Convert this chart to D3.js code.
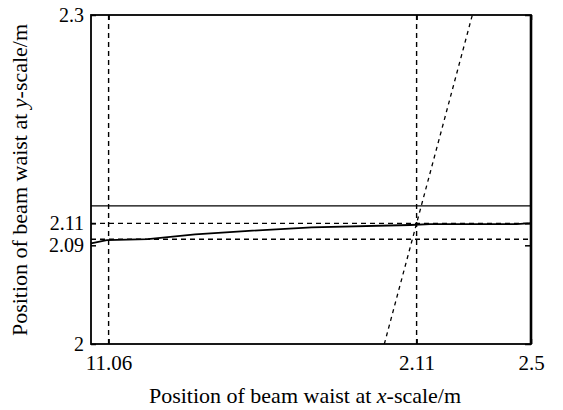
<!DOCTYPE html>
<html><head><meta charset="utf-8">
<script src="https://cdn.jsdelivr.net/npm/d3@7"></script>
<style>body{margin:0;background:#fff}text{font-family:"Liberation Serif","Times New Roman",serif;fill:#000}</style>
</head><body><svg id="c" width="563" height="410"></svg>
<script>
const xDomain=[1.0,2.5], yDomain=[2.0,2.3];
const xTicks=[1.06,2.11,2.5], xTickLabels=["11.06","2.11","2.5"];
const yTicks=[2.0,2.09,2.11,2.3], yTickLabels=["2","2.09","2.11","2.3"];
// solid curve (beam waist trajectory)
const curveX=[1.0,1.054,1.194,1.355,1.525,1.752,2.088,2.156,2.451,2.5];
const curveY=[2.0918,2.0948,2.0957,2.1000,2.1030,2.1064,2.1085,2.1093,2.1093,2.1103];
// solid horizontal reference
const solidH=2.126;
// dashed horizontal references
const dashedH=[2.11,2.0955];
// dashed vertical references
const dashedV=[1.06,2.11];
// dashed diagonal line
const diagX=[2.0,2.3], diagY=[2.0,2.3];

const svg=d3.select("#c");
const m={l:91,r:531,t:15,b:344};
const x=d3.scaleLinear().domain(xDomain).range([m.l,m.r]);
const y=d3.scaleLinear().domain(yDomain).range([m.b,m.t]);
const g=svg.append("g");
const line=d3.line().x(d=>x(d[0])).y(d=>y(d[1]));

g.selectAll(".dv").data(dashedV).join("line").attr("x1",d=>x(d)).attr("x2",d=>x(d))
 .attr("y1",m.t).attr("y2",m.b).attr("stroke","#000").attr("stroke-width",1.4).attr("stroke-dasharray","5,4");
g.selectAll(".dh").data(dashedH).join("line").attr("y1",d=>y(d)).attr("y2",d=>y(d))
 .attr("x1",m.l).attr("x2",m.r).attr("stroke","#000").attr("stroke-width",1.4).attr("stroke-dasharray","5,4");
g.append("line").attr("x1",m.l).attr("x2",m.r).attr("y1",y(solidH)).attr("y2",y(solidH))
 .attr("stroke","#000").attr("stroke-width",1.3);
g.append("path").attr("d",line(diagX.map((v,i)=>[v,diagY[i]]))).attr("fill","none")
 .attr("stroke","#000").attr("stroke-width",1.3).attr("stroke-dasharray","4,4");
g.append("path").attr("d",line(curveX.map((v,i)=>[v,curveY[i]]))).attr("fill","none")
 .attr("stroke","#000").attr("stroke-width",1.8);

g.append("rect").attr("x",m.l).attr("y",m.t).attr("width",m.r-m.l).attr("height",m.b-m.t)
 .attr("fill","none").attr("stroke","#000").attr("stroke-width",1.8);
g.append("line").attr("x1",m.r).attr("x2",m.r).attr("y1",m.t).attr("y2",m.b).attr("stroke","#000").attr("stroke-width",2.6);

const fmtX=(d,i)=>xTickLabels[i], fmtY=(d,i)=>yTickLabels[i];
const ax=svg.append("g").attr("transform",`translate(0,${m.b})`)
 .call(d3.axisBottom(x).tickValues(xTicks).tickFormat(fmtX).tickSize(-5).tickPadding(11));
const ay=svg.append("g").attr("transform",`translate(${m.l},0)`)
 .call(d3.axisLeft(y).tickValues(yTicks).tickFormat(fmtY).tickSize(-5).tickPadding(7));
const ay2=svg.append("g").attr("transform",`translate(${m.r},0)`)
 .call(d3.axisRight(y).tickValues(yTicks).tickFormat("").tickSize(-6));
const ax2=svg.append("g").attr("transform",`translate(0,${m.t})`)
 .call(d3.axisTop(x).tickValues(xTicks).tickFormat("").tickSize(-5));
[ax,ay,ay2,ax2].forEach(a=>{a.select(".domain").remove();a.selectAll(".tick line").attr("stroke","#000").attr("stroke-width",1.5);
 a.selectAll("text").style("font-family",'"Liberation Serif",serif').style("font-size","21px").attr("fill","#000");});
ay.selectAll("text").style("font-size","20px");

svg.append("text").attr("x",305).attr("y",403).attr("text-anchor","middle").style("font-size","22px")
 .html('Position of beam waist at <tspan font-style="italic">x</tspan>-scale/m');
svg.append("text").attr("transform",`translate(27,180) rotate(-90)`).attr("text-anchor","middle").style("font-size","22px")
 .html('Position of beam waist at <tspan font-style="italic">y</tspan>-scale/m');
</script></body></html>
